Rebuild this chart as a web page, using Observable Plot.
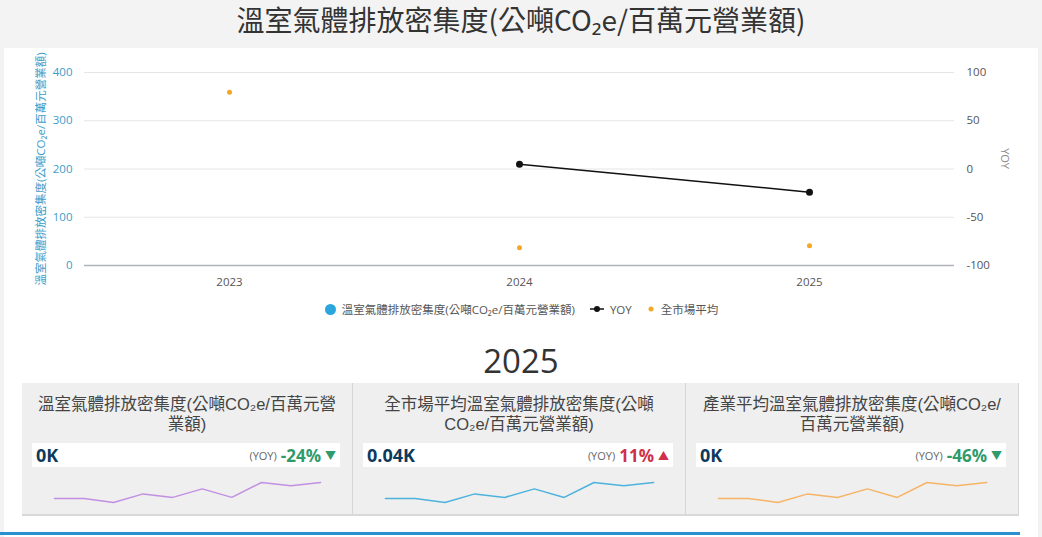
<!DOCTYPE html>
<html>
<head>
<meta charset="utf-8">
<script src="https://cdn.jsdelivr.net/npm/d3@7"></script>
<script src="https://cdn.jsdelivr.net/npm/@observablehq/plot@0.6"></script>
<style>
  html, body { margin:0; padding:0; }
  body { width:1042px; height:537px; position:relative; overflow:hidden; background:#fff;
         font-family:"Open Sans","Noto Sans CJK TC",sans-serif; }
  .abs { position:absolute; }
  #topband { left:0; top:0; width:1042px; height:48px; background:#f3f3f3; }
  #leftstrip { left:0; top:48px; width:4px; height:489px; background:#f3f3f3; }
  #rightstrip { left:1038px; top:48px; width:4px; height:489px; background:#f3f3f3; }
  #title { left:0; top:1px; width:1042px; text-align:center; font-size:28px; color:#333;
           font-family:"Noto Sans CJK TC","Open Sans",sans-serif; line-height:36px; }
  #chart { left:0; top:48px; width:1042px; height:250px; }
  #chart > svg { position:absolute; left:0; top:0; }
  #legend { left:0; top:300px; width:1042px; height:18px; display:flex; justify-content:center; align-items:center;
            font-size:11.5px; color:#555; font-family:"Open Sans","Noto Sans CJK TC",sans-serif; }
  .li { display:flex; align-items:center; margin:0 7px; }
  #year { left:0; top:339px; width:1042px; text-align:center; font-size:33px; color:#333; line-height:44px; }
  #cards { left:22px; top:383px; height:133px; display:flex; }
  .card { position:relative; height:133px; background:#efefef; border-right:1px solid #d6d6d6; border-bottom:2px solid #d9d9d9; box-sizing:border-box; }
  .ctitle { position:absolute; left:0; top:12px; width:100%; text-align:center; font-size:16.5px; line-height:19.5px; color:#444;
            font-family:"Liberation Sans","Noto Sans CJK TC",sans-serif; }
  .strip { position:absolute; left:10px; right:12px; top:60px; height:24px; background:#fff; display:flex; align-items:center; justify-content:space-between; }
  .val { font-weight:700; font-size:18px; color:#0d3a5c; padding-left:4px; }
  .yoy { display:flex; align-items:center; padding-right:4px; }
  .yl { font-size:11px; color:#666; margin-right:4px; }
  .yv { font-weight:700; font-size:17px; }
  .tri { font-size:11px; margin-left:4px; }
  .spark { position:absolute; left:0; top:96px; }
  #bottomline { left:0; top:532px; width:1020px; height:3px; background:#2b8fd0; }
</style>
</head>
<body>
<div id="topband" class="abs"></div>
<div id="leftstrip" class="abs"></div>
<div id="rightstrip" class="abs"></div>
<div id="title" class="abs"></div>
<div id="chart" class="abs"></div>
<div id="legend" class="abs"></div>
<div id="year" class="abs"></div>
<div id="cards" class="abs"></div>
<div id="bottomline" class="abs"></div>
<script>
// ---- data ----
const chartTitle = "溫室氣體排放密集度(公噸CO₂e/百萬元營業額)";
const years = ["2023", "2024", "2025"];
const intensity = [0, 0, 0];              // 溫室氣體排放密集度 (left axis)
const yoy = [null, 5, -24];              // YOY % (right axis)
const marketAvg = [359, 37, 41];         // 全市場平均 (left axis)
const leftTicks = [0, 100, 200, 300, 400];
const rightTicks = [-100, -50, 0, 50, 100];
const seriesNames = ["溫室氣體排放密集度(公噸CO₂e/百萬元營業額)", "YOY", "全市場平均"];

const cardYear = "2025";
const cardTitleLines = [
  ["溫室氣體排放密集度(公噸CO₂e/百萬元營", "業額)"],
  ["全市場平均溫室氣體排放密集度(公噸", "CO₂e/百萬元營業額)"],
  ["產業平均溫室氣體排放密集度(公噸CO₂e/", "百萬元營業額)"]
];
const cardValues = ["0K", "0.04K", "0K"];
const cardYoy = [-24, 11, -46];
const sparkValues = [4, 4, 0.3, 8.3, 5, 13, 5, 19, 16, 19];
const sparkColors = ["#c190e2", "#4db3dc", "#f6b466"];
const cardWidths = [331, 333, 333];

// ---- build ----
document.getElementById("title").textContent = chartTitle;
document.getElementById("year").textContent = cardYear;

const rows = years.map((y, i) => ({year: y, intensity: intensity[i], yoy: yoy[i], market: marketAvg[i]}));
const W = 1042, H = 250;
const common = {width: W, height: H, marginTop: 24, marginBottom: 33, marginLeft: 84, marginRight: 88,
  x: {type: "point", domain: years, padding: 0.5},
  style: {fontFamily: "'Open Sans','Noto Sans CJK TC',sans-serif", fontSize: "11.5px", background: "transparent", overflow: "visible"}};

const plotA = Plot.plot({
  ...common,
  y: {domain: [0, 400]},
  marks: [
    Plot.gridY(leftTicks, {stroke: "#e6e6e6", strokeOpacity: 1}),
    Plot.ruleY([0], {stroke: "#b0b4b8", strokeWidth: 1.5}),
    Plot.axisY(leftTicks, {tickSize: 0, tickPadding: 12, color: "#3d9cc8", tickFormat: d => String(d),
      label: seriesNames[0], labelAnchor: "center", labelArrow: "none", labelOffset: 48}),
    Plot.axisX({tickSize: 0, tickPadding: 12, color: "#555", label: null}),
    Plot.ruleX(rows, {x: "year", y1: 0, y2: "intensity", stroke: "#2aa6dc", strokeWidth: 20}),
    Plot.dot(rows, {x: "year", y: "market", fill: "#f5a623", r: 2.5})
  ]
});

const yoyRows = rows.filter(d => d.yoy != null);
const plotB = Plot.plot({
  ...common,
  x: {...common.x, axis: null},
  y: {domain: [-100, 100]},
  marks: [
    Plot.axisY(rightTicks, {anchor: "right", tickSize: 0, tickPadding: 12, color: "#555",
      tickFormat: d => String(d), label: null}),
    Plot.text(["YOY"], {frameAnchor: "right", dx: 50, rotate: 90, fill: "#888", fontSize: 11}),
    Plot.line(yoyRows, {x: "year", y: "yoy", stroke: "#111", strokeWidth: 1.5}),
    Plot.dot(yoyRows, {x: "year", y: "yoy", fill: "#111", r: 3.5})
  ]
});
const chart = document.getElementById("chart");
chart.appendChild(plotA);
chart.appendChild(plotB);

// legend
const legend = document.getElementById("legend");
const icons = [
  `<svg width="13" height="13"><circle cx="6.5" cy="6.5" r="5.5" fill="#2aa6dc"/></svg>`,
  `<svg width="16" height="10"><line x1="1" y1="5" x2="15" y2="5" stroke="#111" stroke-width="1.5"/><circle cx="8" cy="5" r="3" fill="#111"/></svg>`,
  `<svg width="10" height="10"><circle cx="5" cy="5" r="2.5" fill="#f5a623"/></svg>`
];
seriesNames.forEach((n, i) => {
  const d = document.createElement("div");
  d.className = "li";
  d.innerHTML = icons[i] + `<span style="margin-left:5px">${n}</span>`;
  legend.appendChild(d);
});

// cards
const cards = document.getElementById("cards");
cardTitleLines.forEach((lines, i) => {
  const c = document.createElement("div");
  c.className = "card";
  c.style.width = cardWidths[i] + "px";
  const up = cardYoy[i] >= 0;
  const col = up ? "#d0314a" : "#2f9a6a";
  c.innerHTML = `<div class="ctitle">${lines.join("<br>")}</div>
    <div class="strip"><span class="val">${cardValues[i]}</span>
    <span class="yoy"><span class="yl">(YOY)</span><span class="yv" style="color:${col}">${cardYoy[i]}%</span><span class="tri" style="color:${col}">${up ? "▲" : "▼"}</span></span></div>`;
  const sp = Plot.plot({
    width: cardWidths[i], height: 26, marginLeft: 32, marginRight: 32, marginTop: 3, marginBottom: 3,
    x: {axis: null}, y: {axis: null},
    style: {background: "transparent"},
    marks: [Plot.line(sparkValues, {x: (d, j) => j, y: d => d, stroke: sparkColors[i], strokeWidth: 1.5})]
  });
  sp.classList.add("spark");
  c.appendChild(sp);
  cards.appendChild(c);
});
</script>
</body>
</html>
